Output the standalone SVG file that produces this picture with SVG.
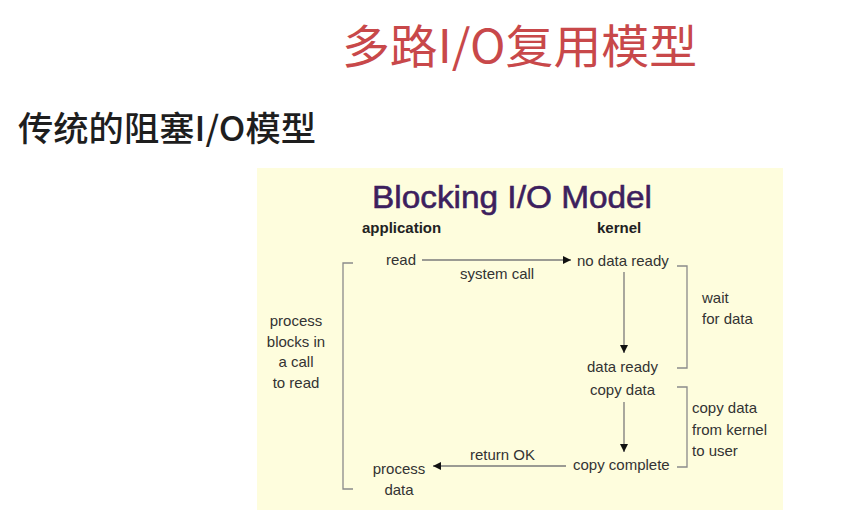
<svg xmlns="http://www.w3.org/2000/svg" width="867" height="522" viewBox="0 0 867 522">
  <style>
    .cjk { font-family: "Noto Sans CJK SC", "Noto Sans", sans-serif; }
    .lbl { font-family: "Liberation Sans", Arial, sans-serif; font-size: 15px; fill: #333; }
    .hdr { font-family: "Liberation Sans", Arial, sans-serif; font-size: 15px; font-weight: bold; fill: #222; }
    .mid { text-anchor: middle; }
    .line { stroke: #7a7a7a; stroke-width: 1.3; fill: none; }
    .brk { stroke: #8a8a8a; stroke-width: 1.3; fill: none; }
  </style>
  <defs>
    <marker id="arrow" viewBox="0 0 10 10" refX="10" refY="5" markerWidth="8" markerHeight="8" markerUnits="userSpaceOnUse" orient="auto">
      <path d="M0,0 L10,5 L0,10 Z" fill="#111"/>
    </marker>
  </defs>

  <rect width="867" height="522" fill="#ffffff"/>

  <!-- page headings -->
  <text class="cjk" x="342" y="63" font-size="46" fill="#c8484a" textLength="355" lengthAdjust="spacingAndGlyphs">多路I/O复用模型</text>
  <text class="cjk" x="18" y="141" font-size="34" font-weight="500" fill="#1e1e1e" textLength="298" lengthAdjust="spacingAndGlyphs">传统的阻塞I/O模型</text>

  <!-- figure panel -->
  <rect x="257" y="168" width="526" height="342" fill="#fefddd"/>
  <text x="372" y="208" font-family="Liberation Sans, Arial, sans-serif" font-size="32" fill="#3d1f5e" stroke="#3d1f5e" stroke-width="0.6" textLength="280" lengthAdjust="spacingAndGlyphs">Blocking I/O Model</text>
  <text class="hdr" x="362" y="233">application</text>
  <text class="hdr" x="597" y="233">kernel</text>

  <g id="connectors">
    <line class="line" x1="422" y1="260" x2="571" y2="260" marker-end="url(#arrow)"/>
    <line class="line" x1="624" y1="272" x2="624" y2="353" marker-end="url(#arrow)"/>
    <line class="line" x1="624" y1="402" x2="624" y2="452" marker-end="url(#arrow)"/>
    <line class="line" x1="566" y1="466" x2="433" y2="466" marker-end="url(#arrow)"/>
    <text class="lbl" x="460" y="279">system call</text>
    <text class="lbl" x="470" y="460">return OK</text>
  </g>

  <g id="read">
    <text class="lbl" x="386" y="265">read</text>
  </g>
  <g id="no-data-ready">
    <text class="lbl" x="577" y="266">no data ready</text>
  </g>
  <g id="data-ready">
    <text class="lbl" x="587" y="372">data ready</text>
  </g>
  <g id="copy-data">
    <text class="lbl" x="590" y="395">copy data</text>
  </g>
  <g id="copy-complete">
    <text class="lbl" x="573" y="470">copy complete</text>
  </g>
  <g id="process-data">
    <text class="lbl mid" x="399" y="474">process</text>
    <text class="lbl mid" x="399" y="495">data</text>
  </g>

  <g id="blocked-bracket">
    <path class="brk" d="M353,263 H343 V489 H353"/>
    <text class="lbl mid" x="296" y="326">process</text>
    <text class="lbl mid" x="296" y="347">blocks in</text>
    <text class="lbl mid" x="296" y="367">a call</text>
    <text class="lbl mid" x="296" y="388">to read</text>
  </g>

  <g id="wait-bracket">
    <path class="brk" d="M677,266 H687 V368 H677"/>
    <text class="lbl" x="702" y="303">wait</text>
    <text class="lbl" x="702" y="324">for data</text>
  </g>

  <g id="copy-bracket">
    <path class="brk" d="M677,387 H687 V467 H677"/>
    <text class="lbl" x="692" y="413">copy data</text>
    <text class="lbl" x="692" y="435">from kernel</text>
    <text class="lbl" x="692" y="456">to user</text>
  </g>
</svg>
